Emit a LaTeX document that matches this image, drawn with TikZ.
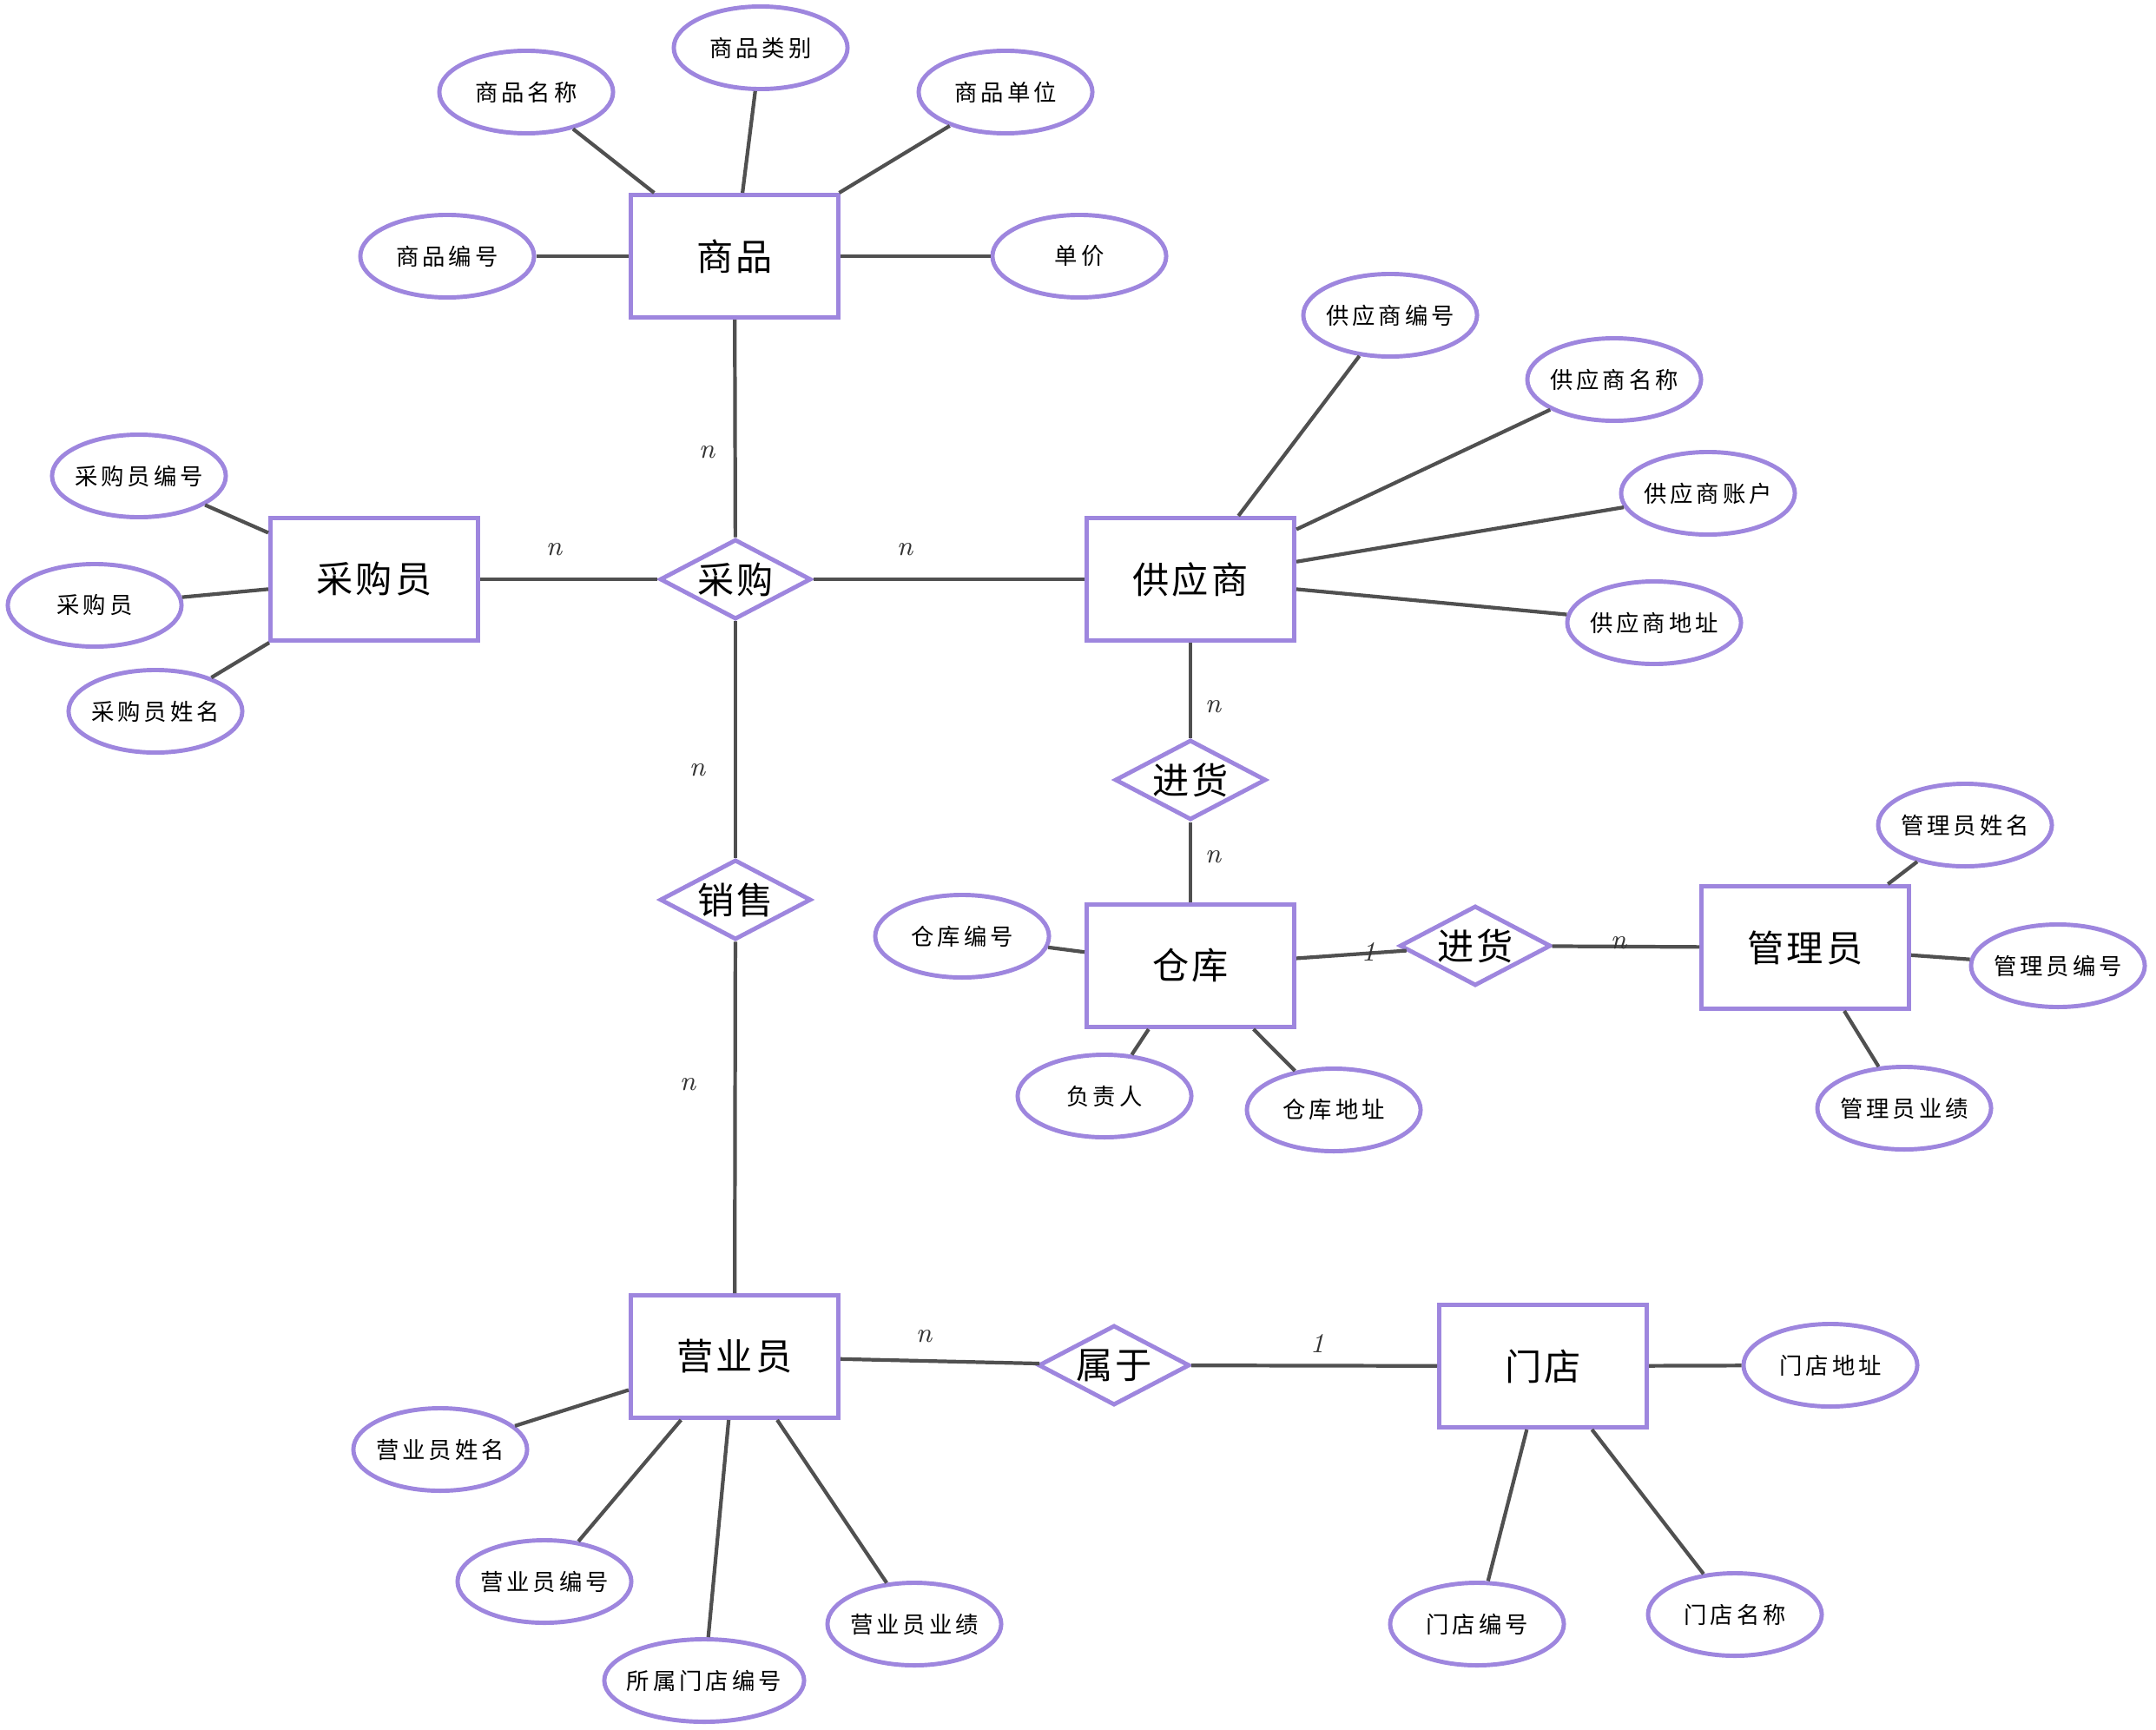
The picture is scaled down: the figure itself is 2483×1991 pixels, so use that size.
\documentclass[tikz,border=0pt]{standalone}
\usepackage{fontspec}
\newfontfamily\cjk{Noto Sans CJK SC}
\newfontfamily\cjkA[LetterSpace=15]{Noto Sans CJK SC}
\newfontfamily\cjkE[LetterSpace=8]{Noto Sans CJK SC}
\usetikzlibrary{shapes.geometric}
\definecolor{pur}{RGB}{158,134,222}
\definecolor{lin}{RGB}{80,80,80}
\tikzset{
  entity/.style={draw=pur,line width=1.4pt,fill=white,minimum width=2.39cm,minimum height=1.41cm,inner sep=0pt,font=\cjkE\fontsize{12}{14}\selectfont},
  rel/.style={draw=pur,line width=1.4pt,fill=white,shape=diamond,aspect=1.9,minimum width=1.74cm,minimum height=0.92cm,inner sep=0pt,font=\cjkE\fontsize{12}{14}\selectfont},
  attr/.style={draw=pur,line width=1.4pt,fill=white,shape=ellipse,minimum width=2cm,minimum height=0.95cm,inner xsep=-0.35cm,inner ysep=0pt,font=\cjkA\fontsize{7.5}{9}\selectfont},
  conn/.style={draw=lin,line width=1.2pt},
  lab/.style={font=\itshape\fontsize{9}{10}\selectfont,text=black!80,inner sep=1pt}
}
\begin{document}
\begin{tikzpicture}[x=0.01cm,y=-0.01cm]
\useasboundingbox (0,0) rectangle (2483,1991);
% entities
\node[entity] (sp) at (846,295) {商品};
\node[entity] (cgy) at (431,667) {采购员};
\node[entity] (gys) at (1371,667) {供应商};
\node[entity] (ck) at (1371,1112) {仓库};
\node[entity] (gly) at (2079,1091) {管理员};
\node[entity] (yyy) at (846,1562) {营业员};
\node[entity] (md) at (1777,1573) {门店};
% relationships
\node[rel] (cg) at (847,667) {采购};
\node[rel] (jh1) at (1371,898) {进货};
\node[rel] (xs) at (847,1036) {销售};
\node[rel] (jh2) at (1699,1089) {进货};
\node[rel] (sy) at (1283,1572) {属于};
% attributes
\node[attr] (a1) at (606,106) {商品名称};
\node[attr] (a2) at (876,55) {商品类别};
\node[attr] (a3) at (1158,106) {商品单位};
\node[attr] (a4) at (515,295) {商品编号};
\node[attr] (a5) at (1243,295) {单价};
\node[attr] (b1) at (1601,363) {供应商编号};
\node[attr] (b2) at (1859,437) {供应商名称};
\node[attr] (b3) at (1967,568) {供应商账户};
\node[attr] (b4) at (1905,717) {供应商地址};
\node[attr] (c1) at (160,548) {采购员编号};
\node[attr] (c2) at (109,697) {采购员};
\node[attr] (c3) at (179,819) {采购员姓名};
\node[attr] (d1) at (2263,950) {管理员姓名};
\node[attr] (d2) at (2370,1112) {管理员编号};
\node[attr] (d3) at (2193,1276) {管理员业绩};
\node[attr] (e1) at (1108,1078) {仓库编号};
\node[attr] (e2) at (1272,1262) {负责人};
\node[attr] (e3) at (1536,1278) {仓库地址};
\node[attr] (f1) at (507,1669) {营业员姓名};
\node[attr] (f2) at (627,1821) {营业员编号};
\node[attr,minimum width=2.3cm] (f3) at (811,1935) {所属门店编号};
\node[attr] (f4) at (1053,1870) {营业员业绩};
\node[attr] (g1) at (2108,1572) {门店地址};
\node[attr] (g2) at (1701,1870) {门店编号};
\node[attr] (g3) at (1998,1859) {门店名称};
% connectors
\draw[conn] (a1) -- (sp); \draw[conn] (a2) -- (sp); \draw[conn] (a3) -- (sp);
\draw[conn] (a4) -- (sp); \draw[conn] (a5) -- (sp);
\draw[conn] (b1) -- (gys); \draw[conn] (b2) -- (gys); \draw[conn] (b3) -- (gys); \draw[conn] (b4) -- (gys);
\draw[conn] (c1) -- (cgy); \draw[conn] (c2) -- (cgy); \draw[conn] (c3) -- (cgy);
\draw[conn] (d1) -- (gly); \draw[conn] (d2) -- (gly); \draw[conn] (d3) -- (gly);
\draw[conn] (e1) -- (ck); \draw[conn] (e2) -- (ck); \draw[conn] (e3) -- (ck);
\draw[conn] (f1) -- (yyy); \draw[conn] (f2) -- (yyy); \draw[conn] (f3) -- (yyy); \draw[conn] (f4) -- (yyy);
\draw[conn] (g1) -- (md); \draw[conn] (g2) -- (md); \draw[conn] (g3) -- (md);
\draw[conn] (sp) -- (cg);
\draw[conn] (cgy) -- (cg);
\draw[conn] (cg) -- (gys);
\draw[conn] (cg) -- (xs);
\draw[conn] (xs) -- (yyy);
\draw[conn] (gys) -- (jh1);
\draw[conn] (jh1) -- (ck);
\draw[conn] (ck) -- (jh2);
\draw[conn] (jh2) -- (gly);
\draw[conn] (yyy) -- (sy);
\draw[conn] (sy) -- (md);
% labels
\node[lab] (n1) at (814,521) {n};
\node[lab] (n2) at (638,633) {n};
\node[lab] (n3) at (1042,633) {n};
\node[lab] (n4) at (803,887) {n};
\node[lab] (n5) at (792,1249) {n};
\node[lab] (n6) at (1397,814) {n};
\node[lab] (n7) at (1397,987) {n};
\node[lab] (n8) at (1576,1096) {1};
\node[lab] (n9) at (1864,1086) {n};
\node[lab] (n10) at (1064,1539) {n};
\node[lab] (n11) at (1517,1547) {1};
\end{tikzpicture}
\end{document}
